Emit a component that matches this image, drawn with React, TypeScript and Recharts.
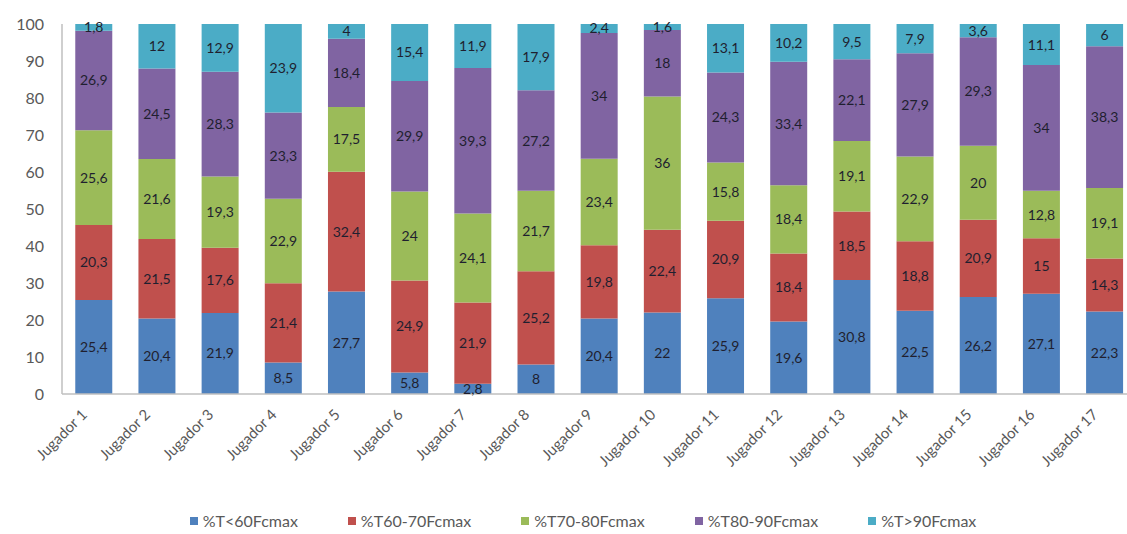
import React from "react";
import { BarChart, Bar, XAxis, YAxis, Legend, LabelList } from "recharts";

const players = [
  "Jugador 1", "Jugador 2", "Jugador 3", "Jugador 4", "Jugador 5", "Jugador 6",
  "Jugador 7", "Jugador 8", "Jugador 9", "Jugador 10", "Jugador 11", "Jugador 12",
  "Jugador 13", "Jugador 14", "Jugador 15", "Jugador 16", "Jugador 17",
];
const lt60 = [25.4, 20.4, 21.9, 8.5, 27.7, 5.8, 2.8, 8, 20.4, 22, 25.9, 19.6, 30.8, 22.5, 26.2, 27.1, 22.3];
const t6070 = [20.3, 21.5, 17.6, 21.4, 32.4, 24.9, 21.9, 25.2, 19.8, 22.4, 20.9, 18.4, 18.5, 18.8, 20.9, 15, 14.3];
const t7080 = [25.6, 21.6, 19.3, 22.9, 17.5, 24, 24.1, 21.7, 23.4, 36, 15.8, 18.4, 19.1, 22.9, 20, 12.8, 19.1];
const t8090 = [26.9, 24.5, 28.3, 23.3, 18.4, 29.9, 39.3, 27.2, 34, 18, 24.3, 33.4, 22.1, 27.9, 29.3, 34, 38.3];
const gt90 = [1.8, 12, 12.9, 23.9, 4, 15.4, 11.9, 17.9, 2.4, 1.6, 13.1, 10.2, 9.5, 7.9, 3.6, 11.1, 6];
const yTicks = [0, 10, 20, 30, 40, 50, 60, 70, 80, 90, 100];

const seriesNames = ["%T<60Fcmax", "%T60-70Fcmax", "%T70-80Fcmax", "%T80-90Fcmax", "%T>90Fcmax"];
const seriesKeys = ["a", "b", "c", "d", "e"];
const seriesColors = ["#4F81BD", "#C0504D", "#9BBB59", "#8064A2", "#4BACC6"];
const seriesValues = [lt60, t6070, t7080, t8090, gt90];

const data = players.map((name, i) => {
  const row: Record<string, any> = { name };
  seriesKeys.forEach((k, s) => {
    row[k] = seriesValues[s][i];
  });
  return row;
});

const fmt = (v: any) => String(v).replace(".", ",");
const FONT = "Lato, 'Open Sans', sans-serif";

const renderLegend = () => (
  <div
    style={{
      display: "flex",
      justifyContent: "center",
      gap: 50,
      fontSize: 16,
      lineHeight: "20px",
      fontFamily: FONT,
      color: "#595959",
      paddingTop: 9,
    }}
  >
    {seriesNames.map((n, s) => (
      <div key={n} style={{ display: "flex", alignItems: "center" }}>
        <span
          style={{
            display: "inline-block",
            width: 8,
            height: 8,
            background: seriesColors[s],
            marginRight: 5,
          }}
        />
        <span>{n}</span>
      </div>
    ))}
  </div>
);

export default function App() {
  return (
    <div
      style={{
        position: "absolute",
        left: 0,
        top: 0,
        width: 1127,
        height: 534,
        overflow: "hidden",
        background: "#fff",
        fontFamily: FONT,
      }}
    >
      <BarChart
        width={1140}
        height={534}
        data={data}
        margin={{ top: 24, right: 4, left: 0, bottom: 2 }}
        barCategoryGap="21%"
      >
        <XAxis
          dataKey="name"
          interval={0}
          angle={-45}
          textAnchor="end"
          height={108}
          tickLine={false}
          axisLine={{ stroke: "#bfbfbf", strokeWidth: 1.5 }}
          tick={{ fill: "#595959", fontSize: 15, fontFamily: FONT, dy: 6, dx: -13 }}
        />
        <YAxis
          width={62}
          domain={[0, 100]}
          ticks={yTicks}
          interval={0}
          tickLine={false}
          axisLine={{ stroke: "#bfbfbf", strokeWidth: 1.5 }}
          tick={{ fill: "#595959", fontSize: 16, fontFamily: FONT, dx: -10 }}
        />
        <Legend
          verticalAlign="bottom"
          height={30}
          content={renderLegend}
          wrapperStyle={{ left: 0, width: 1166, bottom: 2 }}
        />
        {seriesKeys.map((k, s) => (
          <Bar
            key={k}
            dataKey={k}
            name={seriesNames[s]}
            stackId="s"
            fill={seriesColors[s]}
            isAnimationActive={false}
          >
            <LabelList
              dataKey={k}
              position="center"
              formatter={fmt}
              style={{ fill: "#1f1f2f", fontSize: 14, fontFamily: FONT }}
            />
          </Bar>
        ))}
      </BarChart>
    </div>
  );
}
